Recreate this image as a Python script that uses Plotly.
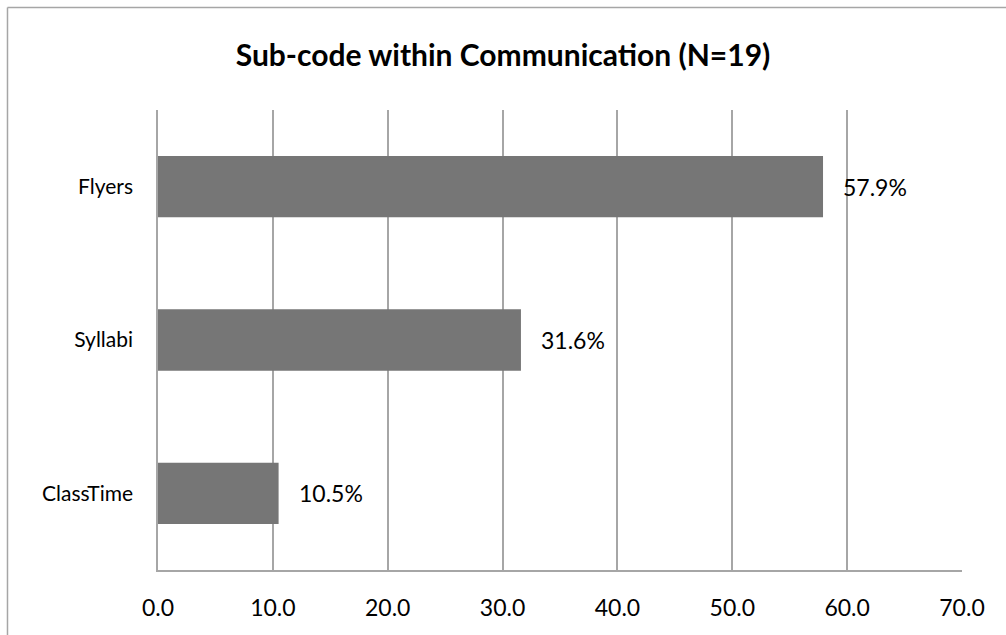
import plotly.graph_objects as go

# Share of each sub-code within the Communication code (N=19)
categories = ["ClassTime", "Syllabi", "Flyers"]
percentages = [10.5, 31.6, 57.9]
tick_values = [0, 10, 20, 30, 40, 50, 60, 70]
tick_labels = ["0.0", "10.0", "20.0", "30.0", "40.0", "50.0", "60.0", "70.0"]
title_text = "<b>Sub-code within Communication (N=19)</b>"

FONT = "Lato, 'Open Sans', sans-serif"
GRID = "#a6a6a6"
BAR = "#767676"

fig = go.Figure(
    go.Bar(
        x=percentages,
        y=categories,
        orientation="h",
        width=0.4,
        marker=dict(color=BAR, line=dict(width=0)),
        hoverinfo="skip",
    )
)

# value labels placed just past the end of each bar
for cat, val in zip(categories, percentages):
    fig.add_annotation(
        x=val, y=cat, text=f"{val:.1f}%", showarrow=False,
        xanchor="left", xshift=18, font=dict(family=FONT, size=23, color="#000"),
    )

# chart-area frame (left and top edges)
fig.add_shape(type="line", xref="paper", yref="paper",
              x0=-0.1872, x1=-0.1872, y0=-0.2, y1=1.2228,
              line=dict(color=GRID, width=1.5))
fig.add_shape(type="line", xref="paper", yref="paper",
              x0=-0.1872, x1=1.1, y0=1.2228, y1=1.2228,
              line=dict(color=GRID, width=1.5))

fig.update_layout(
    width=1006, height=635,
    margin=dict(l=158, r=44, t=110, b=65),
    paper_bgcolor="white", plot_bgcolor="white",
    showlegend=False,
    font=dict(family=FONT, size=21, color="#000"),
    title=dict(text=title_text, x=0.5, xref="container", xanchor="center",
               y=1 - 55 / 635, yref="container", yanchor="middle",
               font=dict(family=FONT, size=30, color="#000")),
    xaxis=dict(
        range=[0, 70], tickmode="array", tickvals=tick_values, ticktext=tick_labels,
        showgrid=True, gridcolor=GRID, gridwidth=1.5,
        showline=True, linecolor=GRID, linewidth=1.5,
        zeroline=False, ticks="", ticklabelstandoff=17,
        tickfont=dict(family=FONT, size=23, color="#000"), fixedrange=True,
    ),
    yaxis=dict(
        categoryorder="array", categoryarray=categories,
        showgrid=False, zeroline=False,
        showline=True, linecolor=GRID, linewidth=1.5,
        ticks="", ticklabelstandoff=19,
        tickfont=dict(family=FONT, size=21, color="#000"), fixedrange=True,
    ),
)

fig.write_html("out.html")
